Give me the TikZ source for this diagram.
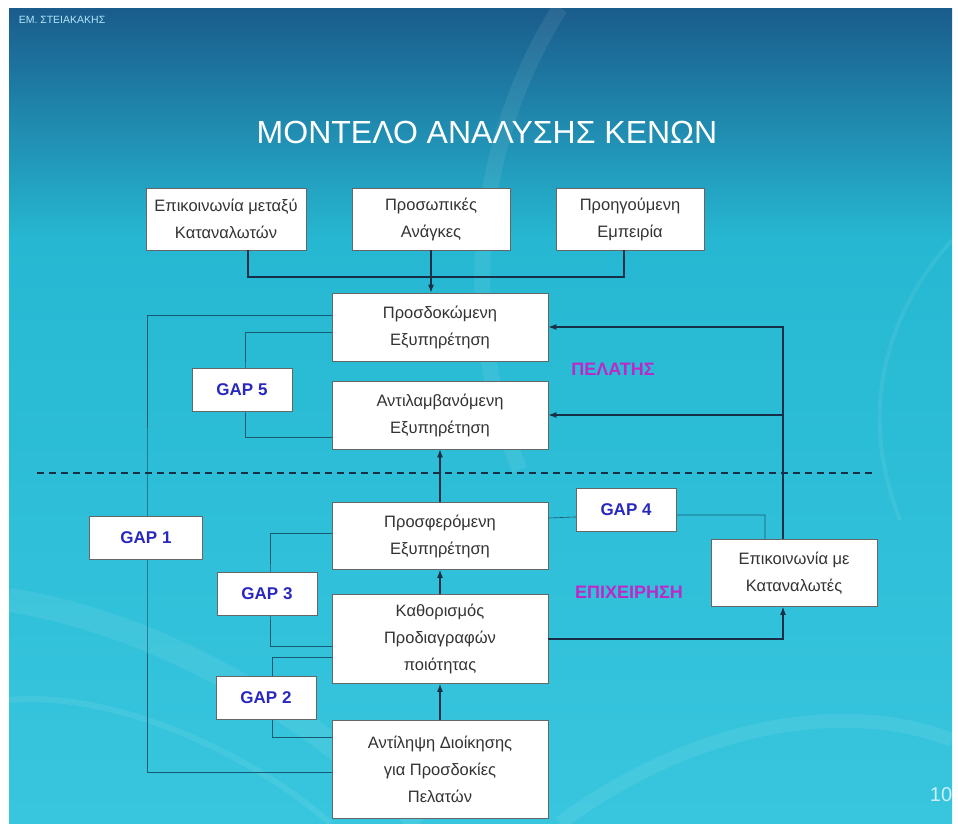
\documentclass[tikz,border=0pt]{standalone}
\usepackage{fontspec}
\setmainfont{Liberation Sans}
\usetikzlibrary{positioning,arrows.meta}
\definecolor{slidetop}{RGB}{26,92,140}
\definecolor{slidecyan}{RGB}{38,184,210}
\definecolor{slidelow}{RGB}{56,198,222}
\definecolor{wire}{RGB}{22,46,70}
\definecolor{gapwire}{RGB}{24,88,112}
\definecolor{gapblue}{RGB}{40,40,190}
\definecolor{sidepink}{RGB}{190,40,200}
\begin{document}
\begin{tikzpicture}[x=1pt,y=-1pt,>={Latex[length=8pt,width=6pt]}]
\tikzset{
  stage/.style={draw=black!60,fill=white,line width=0.8pt,align=center,inner sep=0pt,
    font=\fontsize{16.5}{27}\selectfont,text=black!80},
  gapbox/.style={draw=black!60,fill=white,line width=0.8pt,inner sep=0pt,
    minimum width=100,minimum height=43,font=\fontsize{17}{20}\selectfont\bfseries,text=gapblue},
  side/.style={font=\fontsize{18}{20}\selectfont\bfseries,text=sidepink},
  wire/.style={draw=wire,line width=1.1pt},
  gapline/.style={draw=gapwire,line width=0.6pt},
  swoosh/.style={white,opacity=0.07}
}
% slide background
\useasboundingbox (0,0) rectangle (958,830);
\fill[white] (0,0) rectangle (958,830);
\shade[top color=slidetop,bottom color=slidecyan] (9,8) rectangle (952,240);
\shade[top color=slidecyan,bottom color=slidelow] (9,240) rectangle (952,823);
\draw[swoosh,line width=24pt] (9,600) .. controls (140,620) and (300,700) .. (420,823);
\draw[swoosh,line width=6pt] (9,700) .. controls (120,690) and (260,760) .. (330,823);
\draw[swoosh,line width=16pt] (560,8) .. controls (470,150) and (460,330) .. (520,470);
\draw[swoosh,line width=4pt] (952,240) .. controls (880,320) and (860,420) .. (900,520);
\draw[swoosh,line width=14pt] (560,823) .. controls (700,720) and (850,700) .. (952,740);

\node[font=\fontsize{10.5}{12}\selectfont,text=cyan!30] (author) at (62,20) {ΕΜ. ΣΤΕΙΑΚΑΚΗΣ};
\node[font=\fontsize{32}{36}\selectfont,text=white] (title) at (487,132) {ΜΟΝΤΕΛΟ ΑΝΑΛΥΣΗΣ ΚΕΝΩΝ};
\node[font=\fontsize{20}{22}\selectfont,text=cyan!20] (pageno) at (941,795) {10};

% customer side
\node[stage,minimum width=160,minimum height=62] (wordofmouth) at (226,219) {Επικοινωνία μεταξύ\\Καταναλωτών};
\node[stage,minimum width=158,minimum height=62] (needs) at (431,219) {Προσωπικές\\Ανάγκες};
\node[stage,minimum width=148,minimum height=62] (pastexp) at (630,219) {Προηγούμενη\\Εμπειρία};
\node[stage,minimum width=216,minimum height=68] (expected) at (440,327) {Προσδοκώμενη\\Εξυπηρέτηση};
\node[stage,minimum width=216,minimum height=68] (perceived) at (440,415) {Αντιλαμβανόμενη\\Εξυπηρέτηση};
\node[side] (customer) at (613,369) {ΠΕΛΑΤΗΣ};

% provider side
\node[stage,minimum width=216,minimum height=67] (delivered) at (440,536) {Προσφερόμενη\\Εξυπηρέτηση};
\node[stage,minimum width=216,minimum height=89] (specs) at (440,639) {Καθορισμός\\Προδιαγραφών\\ποιότητας};
\node[stage,minimum width=216,minimum height=98] (mgmt) at (440,769) {Αντίληψη Διοίκησης\\για Προσδοκίες\\Πελατών};
\node[stage,minimum width=166,minimum height=67] (extcomm) at (794,573) {Επικοινωνία με\\Καταναλωτές};
\node[side] (provider) at (629,592) {ΕΠΙΧΕΙΡΗΣΗ};

\coordinate (merge) at (431,277);
\coordinate (divleft) at (37,473);
\coordinate (divright) at (872,473);
\coordinate (g1) at (147,538);
\coordinate (g2) at (272,698);
\coordinate (g3) at (270,594);
\coordinate (g4) at (626,515);
\coordinate (g5) at (245,390);

% gap lines
\draw[gapline] ([yshift=12pt]expected.west) -| (g1) |- ([yshift=-3pt]mgmt.west);
\draw[gapline] ([yshift=-5pt]expected.west) -| (g5) |- ([yshift=-22pt]perceived.west);
\draw[gapline] ([yshift=3pt]delivered.west) -| (g3) |- ([yshift=-7pt]specs.west);
\draw[gapline] ([yshift=-18pt]specs.west) -| (g2) |- ([yshift=32pt]mgmt.west);
\draw[gapline] ([yshift=18pt]delivered.east) -- (g4) -| ([xshift=-29pt]extcomm.north);

% main flow
\draw[wire] ([xshift=22pt]wordofmouth.south) |- (merge) -| ([xshift=-6pt]pastexp.south);
\draw[wire,->] (needs.south) -- (needs.south |- expected.north);
\draw[wire,->] (delivered) -- (perceived);
\draw[wire,->] (specs) -- (delivered);
\draw[wire,->] (mgmt) -- (specs);
\draw[wire,->] ([xshift=-11pt]extcomm.north) |- (expected.east);
\draw[wire,->] ([xshift=-11pt]extcomm.north |- perceived.east) -- (perceived.east);
\draw[wire,->] (specs.east) -| ([xshift=-11pt]extcomm.south);
\draw[wire,dashed,dash pattern=on 7pt off 5pt,line width=1.3pt] (divleft) -- (divright);

% gap boxes
\node[gapbox,minimum width=113] (gap1) at ([xshift=-1pt]g1) {GAP 1};
\node[gapbox] (gap2) at ([xshift=-6pt]g2) {GAP 2};
\node[gapbox] (gap3) at ([xshift=-3pt]g3) {GAP 3};
\node[gapbox] (gap4) at ([yshift=5pt]g4) {GAP 4};
\node[gapbox] (gap5) at ([xshift=-3pt]g5) {GAP 5};
\end{tikzpicture}
\end{document}
